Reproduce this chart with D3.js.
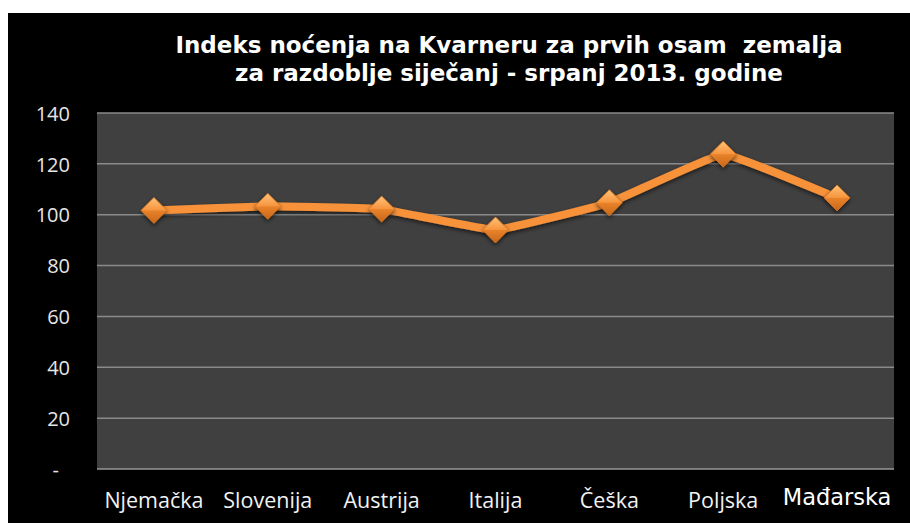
<!DOCTYPE html>
<html>
<head>
<meta charset="utf-8">
<script src="https://cdn.jsdelivr.net/npm/d3@7"></script>
<style>
  body { margin: 0; background: #ffffff; }
</style>
</head>
<body>
<script>
var w = 910;
var h = 523;

// Data
var countries = ["Njemačka", "Slovenija", "Austrija", "Italija", "Češka", "Poljska", "Mađarska"];
var indexValues = [101.7, 103.3, 102.2, 94.0, 104.7, 123.8, 106.6];
var yTicks = [0, 20, 40, 60, 80, 100, 120, 140];
var titleLines = ["Indeks noćenja na Kvarneru za prvih osam  zemalja",
                  "za razdoblje siječanj - srpanj 2013. godine"];

var svg = d3.select("body")
            .append("svg")
            .attr("width", w)
            .attr("height", h);

// black chart background
svg.append("rect")
    .attr("x", 8).attr("y", 13)
    .attr("width", w - 8).attr("height", h - 13)
    .attr("fill", "#000");

var plot = {left: 97, right: 894, top: 113, bottom: 469};

var xScale = d3.scaleBand()
               .domain(countries)
               .range([plot.left, plot.right]);

var yScale = d3.scaleLinear()
               .domain([0, 140])
               .range([plot.bottom, plot.top]);

// plot area
svg.append("rect")
    .attr("x", plot.left).attr("y", plot.top)
    .attr("width", plot.right - plot.left)
    .attr("height", plot.bottom - plot.top)
    .attr("fill", "#404040");

// gridlines
svg.append("g")
    .selectAll("line")
    .data(yTicks.filter(function(d){ return d > 0; }))
    .enter()
    .append("line")
    .attr("x1", plot.left).attr("x2", plot.right)
    .attr("y1", function(d){ return yScale(d); })
    .attr("y2", function(d){ return yScale(d); })
    .attr("stroke", "#8a8a8a")
    .attr("stroke-width", 1.5);

// x axis line
svg.append("line")
    .attr("x1", plot.left).attr("x2", plot.right)
    .attr("y1", plot.bottom).attr("y2", plot.bottom)
    .attr("stroke", "#9a9a9a")
    .attr("stroke-width", 1.5);

// y axis
var yAxis = d3.axisLeft(yScale)
              .tickValues(yTicks)
              .tickSize(0)
              .tickPadding(0)
              .tickFormat(function(d){ return d === 0 ? "-" : d; });

var gy = svg.append("g")
    .attr("transform", "translate(70,0)")
    .call(yAxis);
gy.select(".domain").remove();
gy.selectAll("text")
    .attr("fill", "#e6e6e6")
    .attr("font-family", "'Open Sans', sans-serif")
    .attr("font-size", "20px")
    .attr("dy", "0.36em");
gy.selectAll(".tick").filter(function(d){ return d === 0; })
    .select("text").attr("dx", "-11px");

// x axis
var xAxis = d3.axisBottom(xScale).tickSize(0).tickPadding(0);
var gx = svg.append("g")
    .attr("transform", "translate(0," + 500 + ")")
    .call(xAxis);
gx.select(".domain").remove();
gx.selectAll("text")
    .attr("fill", "#f2f2f2")
    .attr("font-family", "'Open Sans', sans-serif")
    .attr("font-size", "21.5px")
    .attr("dy", "0.36em");
gx.selectAll(".tick").filter(function(d){ return d === "Mađarska"; })
    .select("text")
    .attr("font-family", "'DejaVu Sans', Verdana, sans-serif")
    .attr("font-size", "22.5px")
    .attr("fill", "#fff")
    .attr("dy", "0.2em");

// title
svg.append("g")
    .selectAll("text")
    .data(titleLines)
    .enter()
    .append("text")
    .attr("x", 509)
    .attr("y", function(d, i){ return 53 + i * 28; })
    .attr("text-anchor", "middle")
    .attr("fill", "#fff")
    .attr("font-family", "'DejaVu Sans', Verdana, sans-serif")
    .attr("font-weight", "bold")
    .attr("font-size", "23px")
    .attr("xml:space", "preserve")
    .style("white-space", "pre")
    .text(function(d){ return d; });

// defs: shadow + diamond gradient
var defs = svg.append("defs");
var shadow = defs.append("filter").attr("id", "shadow")
    .attr("x", "-50%").attr("y", "-50%").attr("width", "200%").attr("height", "200%");
shadow.append("feDropShadow")
    .attr("dx", 0).attr("dy", 2).attr("stdDeviation", 2)
    .attr("flood-color", "#000").attr("flood-opacity", 0.6);

var grad = defs.append("linearGradient").attr("id", "diamondGrad")
    .attr("x1", 0).attr("y1", 0).attr("x2", 0).attr("y2", 1);
grad.append("stop").attr("offset", "0%").attr("stop-color", "#ffc27a");
grad.append("stop").attr("offset", "48%").attr("stop-color", "#f7963e");
grad.append("stop").attr("offset", "52%").attr("stop-color", "#e8822a");
grad.append("stop").attr("offset", "100%").attr("stop-color", "#c9661a");

var xc = function(d, i){ return xScale(countries[i]) + xScale.bandwidth() / 2; };

var line = d3.line()
    .x(function(d, i){ return xc(d, i); })
    .y(function(d){ return yScale(d); })
    .curve(d3.curveCardinal.tension(0.75));

svg.append("path")
    .datum(indexValues)
    .attr("d", line)
    .attr("fill", "none")
    .attr("stroke", "#f7923a")
    .attr("stroke-width", 8)
    .attr("stroke-linejoin", "round")
    .attr("filter", "url(#shadow)");

// diamonds
var ds = 13;
svg.append("g")
    .selectAll("path")
    .data(indexValues)
    .enter()
    .append("path")
    .attr("transform", function(d, i){ return "translate(" + xc(d, i) + "," + yScale(d) + ")"; })
    .attr("d", "M0," + (-ds) + "L" + ds + ",0L0," + ds + "L" + (-ds) + ",0Z")
    .attr("fill", "url(#diamondGrad)")
    .attr("stroke", "#d0741f")
    .attr("stroke-width", 0.8)
    .attr("filter", "url(#shadow)");
</script>
</body>
</html>
